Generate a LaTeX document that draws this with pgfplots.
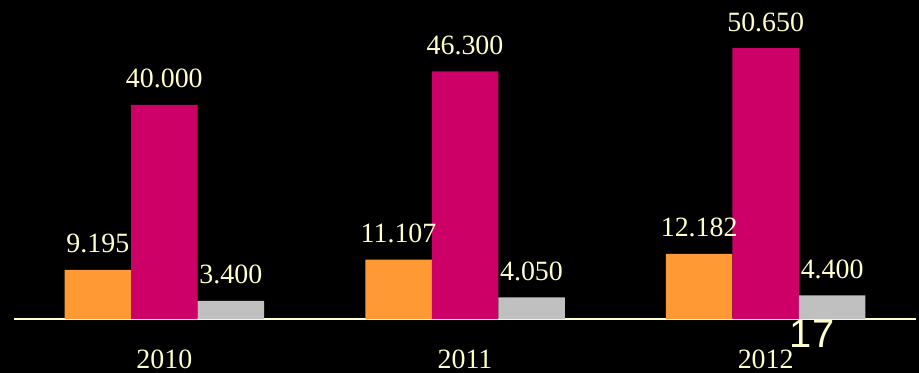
\documentclass[border=0pt]{standalone}
\usepackage{pgfplots}
\pgfplotsset{compat=1.18}
\usepackage{fontspec}
\setmainfont{Liberation Serif}
\newfontfamily\sansf{Liberation Sans}
\definecolor{orng}{HTML}{FF9933}
\definecolor{magn}{HTML}{CC0066}
\definecolor{gry}{HTML}{C0C0C0}
\definecolor{txt}{HTML}{FFFFCC}
\begin{document}
\begin{tikzpicture}
\path[use as bounding box, fill=black] (0,0) rectangle (919bp,373bp);
\begin{axis}[
  at={(14bp,54bp)}, anchor=south west,
  scale only axis, width=902bp, height=319bp,
  xmin=-0.5, xmax=2.5, ymin=0, ymax=59626,
  clip=false,
  hide y axis,
  axis x line*=bottom,
  x axis line style={draw=txt, line width=2bp, -},
  xtick={0,1,2}, xticklabels={2010,2011,2012},
  major tick length=0pt,
  xticklabel style={anchor=base, yshift=-49bp, inner sep=0pt, font=\fontsize{28}{30}\selectfont, text=txt},
  ybar=0pt, bar width=66.5bp,
  nodes near coords={\pgfmathprintnumber{\pgfplotspointmeta}},
  every node near coord/.append style={anchor=base, yshift=17bp, inner sep=0pt,
     font=\fontsize{28}{30}\selectfont, text=txt,
     /pgf/number format/.cd, 1000 sep={.}, fixed, precision=0, assume math mode=true},
]
\addplot[fill=orng, draw=none] coordinates {(0,9195) (1,11107) (2,12182)};
\addplot[fill=magn, draw=none] coordinates {(0,40000) (1,46300) (2,50650)};
\addplot[fill=gry, draw=none] coordinates {(0,3400) (1,4050) (2,4400)};
\node[anchor=base west, inner sep=0pt, text=txt, font=\sansf\fontsize{40}{42}\selectfont] at (axis cs:2.08,-5234) {17};
\end{axis}
\end{tikzpicture}
\end{document}
